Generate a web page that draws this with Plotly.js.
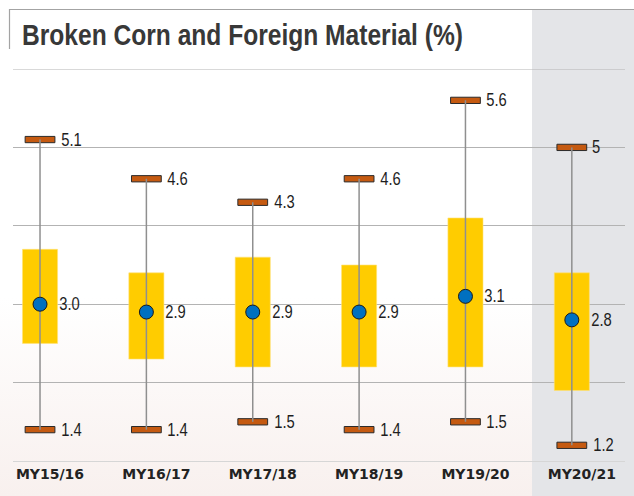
<!DOCTYPE html>
<html>
<head>
<meta charset="utf-8">
<script src="https://cdn.plot.ly/plotly-3.0.1.min.js"></script>
<style>
  html, body { margin: 0; padding: 0; }
  body { width: 634px; height: 496px; background: linear-gradient(to bottom, #ffffff 0%, #ffffff 60%, #f8f0ee 100%); }
  #chart { width: 634px; height: 496px; }
</style>
</head>
<body>
<div id="chart"></div>
<script>
// ---- data ----
const categories = ["MY15/16", "MY16/17", "MY17/18", "MY18/19", "MY19/20", "MY20/21"];
const maxValues  = [5.1, 4.6, 4.3, 4.6, 5.6, 5.0];
const q3Values   = [3.7, 3.4, 3.6, 3.5, 4.1, 3.4];
const meanValues = [3.0, 2.9, 2.9, 2.9, 3.1, 2.8];
const q1Values   = [2.5, 2.3, 2.2, 2.2, 2.2, 1.9];
const minValues  = [1.4, 1.4, 1.5, 1.4, 1.5, 1.2];
const maxLabels  = ["5.1", "4.6", "4.3", "4.6", "5.6", "5"];
const meanLabels = ["3.0", "2.9", "2.9", "2.9", "3.1", "2.8"];
const minLabels  = ["1.4", "1.4", "1.5", "1.4", "1.5", "1.2"];

const idx = categories.map((_, i) => i);
const capH = 0.08;
const tickShift = 0.094; // category labels sit slightly right of the boxes in the original

// whiskers
const wx = [], wy = [];
idx.forEach(i => { wx.push(i, i, null); wy.push(minValues[i], maxValues[i], null); });

const traces = [
  { type: "scatter", mode: "lines", x: wx, y: wy,
    line: { color: "#8f8f8f", width: 1.5 }, hoverinfo: "skip", showlegend: false },
  { type: "bar", x: idx, base: q1Values, y: q3Values.map((v, i) => v - q1Values[i]),
    width: 0.33, marker: { color: "#FFCC00", line: { color: "#FFE27A", width: 0.6 } },
    hoverinfo: "skip", showlegend: false },
  { type: "bar", x: idx, base: maxValues.map(v => v - capH / 2), y: maxValues.map(() => capH),
    width: 0.28, marker: { color: "#C55A11", line: { color: "#2b2b2b", width: 1 } },
    hoverinfo: "skip", showlegend: false },
  { type: "bar", x: idx, base: minValues.map(v => v - capH / 2), y: minValues.map(() => capH),
    width: 0.28, marker: { color: "#C55A11", line: { color: "#2b2b2b", width: 1 } },
    hoverinfo: "skip", showlegend: false },
  { type: "scatter", mode: "markers", x: idx, y: meanValues,
    marker: { size: 14, color: "#0070C0", line: { color: "#1a1a1a", width: 1 } },
    hoverinfo: "skip", showlegend: false }
];

const labelFont = { family: "'Liberation Sans', Arial, sans-serif", size: 18, color: "#1e1e1e" };
const annotations = [];
idx.forEach(i => {
  annotations.push({ x: i, y: maxValues[i], text: maxLabels[i], xanchor: "left", yanchor: "middle", xshift: 17, showarrow: false, font: labelFont });
  annotations.push({ x: i, y: meanValues[i], text: meanLabels[i], xanchor: "left", yanchor: "middle", xshift: 15, showarrow: false, font: labelFont });
  annotations.push({ x: i, y: minValues[i], text: minLabels[i], xanchor: "left", yanchor: "middle", xshift: 17, showarrow: false, font: labelFont });
});

const layout = {
  width: 634, height: 496,
  margin: { l: 13, r: 9, t: 69, b: 35, pad: 0 },
  paper_bgcolor: "rgba(0,0,0,0)", plot_bgcolor: "rgba(0,0,0,0)",
  barmode: "overlay",
  title: {
    text: "<b>Broken Corn and Foreign Material (%)</b>",
    xref: "container", yref: "container", x: 22 / 634, xanchor: "left",
    y: 1 - 35 / 496, yanchor: "middle",
    font: { family: "'Liberation Sans', Arial, sans-serif", size: 29, color: "#383838" }
  },
  xaxis: {
    range: [-0.254, 5.5], tickvals: idx.map(i => i + tickShift), ticktext: categories,
    showgrid: false, zeroline: false, showline: true, linecolor: "#d6d6d6", linewidth: 1,
    ticks: "", tickfont: { family: "'DejaVu Sans', sans-serif", size: 14, color: "#222222", weight: "bold" },
    fixedrange: true
  },
  yaxis: {
    range: [1, 6], dtick: 1, tick0: 0, showgrid: true, gridcolor: "#b3b3b3", gridwidth: 1,
    zeroline: false, showticklabels: false, showline: false, ticks: "", fixedrange: true
  },
  shapes: [
    { type: "rect", layer: "below", xref: "paper", yref: "paper",
      x0: (532 - 13) / 612, x1: (640 - 13) / 612, y0: (461 - 500) / 392, y1: (461 - 10) / 392,
      fillcolor: "#e4e5e8", line: { width: 0 } },
    { type: "line", xref: "paper", yref: "paper",
      x0: (9 - 13) / 612, x1: (640 - 13) / 612, y0: (461 - 9.5) / 392, y1: (461 - 9.5) / 392,
      line: { color: "#a3a3a3", width: 1.2 } },
    { type: "line", xref: "paper", yref: "paper",
      x0: (9.5 - 13) / 612, x1: (9.5 - 13) / 612, y0: (461 - 9) / 392, y1: (461 - 49) / 392,
      line: { color: "#a3a3a3", width: 1.2 } },
    { type: "line", xref: "paper", yref: "y",
      x0: 0, x1: 1, y0: 6, y1: 6, line: { color: "#b3b3b3", width: 1 } }
  ],
  annotations: annotations,
  showlegend: false
};

Plotly.newPlot("chart", traces, layout, { staticPlot: true, displayModeBar: false }).then(gd => {
  // narrow the text to mimic the condensed typeface of the original
  const t = gd.querySelector(".gtitle");
  if (t) { t.setAttribute("textLength", 441); t.setAttribute("lengthAdjust", "spacingAndGlyphs"); }
  gd.querySelectorAll(".annotation-text").forEach(el => {
    const w = el.getComputedTextLength();
    el.setAttribute("textLength", (w * 0.82).toFixed(1));
    el.setAttribute("lengthAdjust", "spacingAndGlyphs");
  });
});
</script>
</body>
</html>
